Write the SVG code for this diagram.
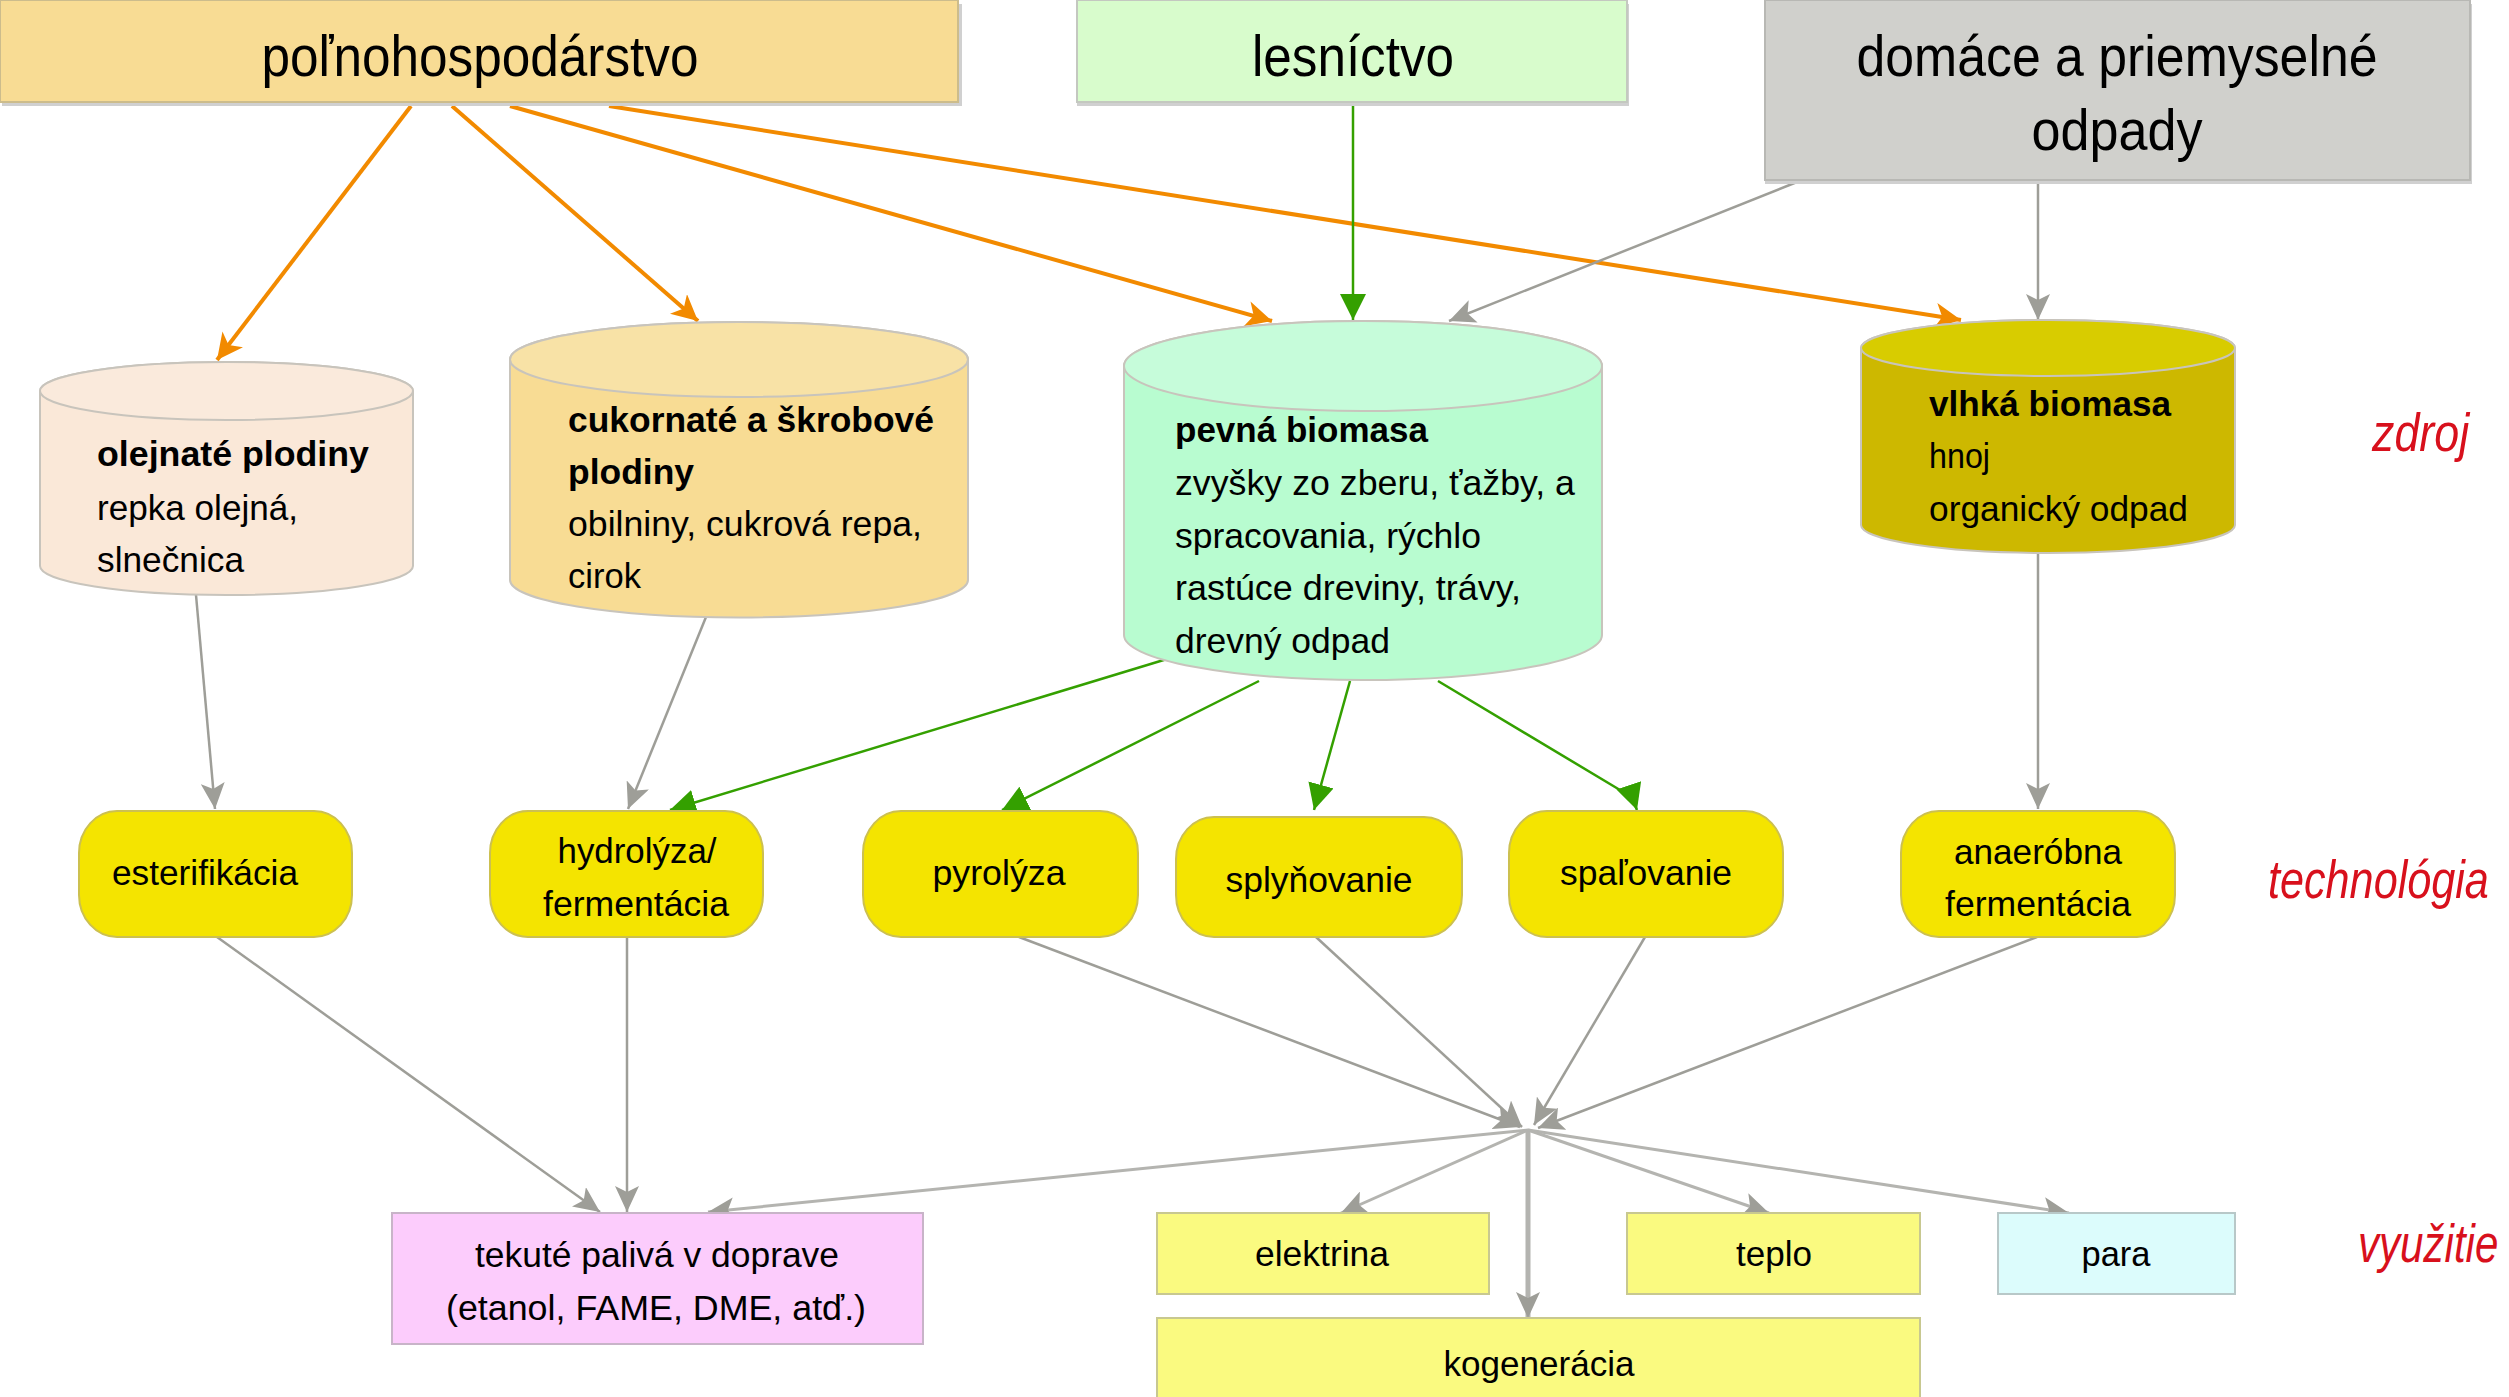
<svg xmlns="http://www.w3.org/2000/svg" width="2509" height="1397" viewBox="0 0 2509 1397">
<style>
text{font-family:"Liberation Sans",Arial,sans-serif;fill:#000}
.t{font-size:58px;text-anchor:middle}
.n{font-size:35px}
.b{font-weight:bold}
.c{font-size:35px;text-anchor:middle}
.r{font-size:54px;font-style:italic;fill:#D8101C}
.sh{fill:#D0D0D0}
.cyl{stroke:#C8C4BC;stroke-width:2}
.tech{fill:#F4E400;stroke:#CCC050;stroke-width:2}
.or{stroke:#F28A00;stroke-width:4;fill:none;marker-end:url(#ao)}
.gr{stroke:#34A000;stroke-width:2.5;fill:none;marker-end:url(#ag)}
.gy{stroke:#9E9E98;stroke-width:2.5;fill:none;marker-end:url(#ay)}
.gl{stroke:#B4B4B0;stroke-width:3;fill:none;marker-end:url(#ay)}
</style>
<defs>
<marker id="ao" markerUnits="userSpaceOnUse" markerWidth="28" markerHeight="26" refX="26" refY="13" orient="auto"><path d="M0,0 L26,13 L0,26 L7,13 Z" fill="#F28A00"/></marker>
<marker id="ag" markerUnits="userSpaceOnUse" markerWidth="28" markerHeight="26" refX="26" refY="13" orient="auto"><path d="M0,0 L26,13 L0,26 Z" fill="#34A000"/></marker>
<marker id="ay" markerUnits="userSpaceOnUse" markerWidth="28" markerHeight="24" refX="26" refY="12" orient="auto"><path d="M0,0 L26,12 L0,24 L6,12 Z" fill="#9E9E98"/></marker>
</defs>
<rect width="2509" height="1397" fill="#fff"/>

<g id="connectors">
<line class="or" x1="411" y1="106" x2="217" y2="360"/>
<line class="or" x1="452" y1="106" x2="698" y2="321"/>
<line class="or" x1="510" y1="106" x2="1272" y2="321"/>
<line class="or" x1="609" y1="106" x2="1961" y2="320"/>
<line class="gr" x1="1353" y1="104" x2="1353" y2="320"/>
<line class="gy" x1="1797" y1="182" x2="1449" y2="321"/>
<line class="gy" x1="2038" y1="182" x2="2038" y2="320"/>
<line class="gy" x1="196" y1="595" x2="215" y2="809"/>
<line class="gy" x1="706" y1="617" x2="628" y2="809"/>
<line class="gr" x1="1167" y1="659" x2="670" y2="810"/>
<line class="gr" x1="1259" y1="681" x2="1002" y2="810"/>
<line class="gr" x1="1350" y1="681" x2="1314" y2="810"/>
<path class="gr" d="M1438,681 L1620,790 Q1633,798 1637,810"/>
<line class="gy" x1="2038" y1="553" x2="2038" y2="809"/>
<line class="gy" x1="217" y1="937" x2="600" y2="1212"/>
<line class="gy" x1="627" y1="937" x2="627" y2="1212"/>
<line class="gy" x1="1019" y1="937" x2="1520" y2="1127"/>
<line class="gy" x1="1316" y1="937" x2="1522" y2="1127"/>
<line class="gy" x1="1645" y1="937" x2="1534" y2="1125"/>
<line class="gy" x1="2037" y1="937" x2="1538" y2="1128"/>
<line class="gl" x1="1528" y1="1130" x2="708" y2="1212"/>
<line class="gl" x1="1528" y1="1130" x2="1341" y2="1213"/>
<line class="gl" x1="1528" y1="1130" x2="1528" y2="1318" style="stroke-width:5"/>
<line class="gl" x1="1528" y1="1130" x2="1769" y2="1213"/>
<line class="gl" x1="1528" y1="1130" x2="2069" y2="1213"/>
</g>

<g id="polnohospodarstvo">
<rect class="sh" x="2" y="4" width="960" height="102"/>
<rect x="0" y="0" width="958" height="102" fill="#F8DC94" stroke="#CCBC8C" stroke-width="2"/>
<text class="t" x="480" y="76" textLength="437" lengthAdjust="spacingAndGlyphs">poľnohospodárstvo</text>
</g>
<g id="lesnictvo">
<rect class="sh" x="1077" y="4" width="552" height="102"/>
<rect x="1077" y="0" width="550" height="102" fill="#D8FCCC" stroke="#C4C8C0" stroke-width="2"/>
<text class="t" x="1353" y="76" textLength="202" lengthAdjust="spacingAndGlyphs">lesníctvo</text>
</g>
<g id="domace">
<rect class="sh" x="1765" y="4" width="707" height="180"/>
<rect x="1765" y="0" width="705" height="180" fill="#D0D0CC" stroke="#B8B8B4" stroke-width="2"/>
<text class="t" x="2117" y="76" textLength="521" lengthAdjust="spacingAndGlyphs">domáce a priemyselné</text>
<text class="t" x="2117" y="150" textLength="171" lengthAdjust="spacingAndGlyphs">odpady</text>
</g>

<g id="olejnate">
<path class="cyl" d="M40,391 V566 A186.5,29 0 0 0 413,566 V391 A186.5,29 0 0 0 40,391 Z" fill="#FAE8D8"/>
<ellipse class="cyl" cx="226.5" cy="391" rx="186.5" ry="29" fill="#FAEADC"/>
<text class="n b" x="97" y="466" textLength="272" lengthAdjust="spacingAndGlyphs">olejnaté plodiny</text>
<text class="n" x="97" y="520" textLength="201" lengthAdjust="spacingAndGlyphs">repka olejná,</text>
<text class="n" x="97" y="572" textLength="147" lengthAdjust="spacingAndGlyphs">slnečnica</text>
</g>
<g id="cukornate">
<path class="cyl" d="M510,359.5 V580 A229,37.5 0 0 0 968,580 V359.5 A229,37.5 0 0 0 510,359.5 Z" fill="#F8DC94"/>
<ellipse class="cyl" cx="739" cy="359.5" rx="229" ry="37.5" fill="#F8E2A6"/>
<text class="n b" x="568" y="432" textLength="366" lengthAdjust="spacingAndGlyphs">cukornaté a škrobové</text>
<text class="n b" x="568" y="484" textLength="126" lengthAdjust="spacingAndGlyphs">plodiny</text>
<text class="n" x="568" y="536" textLength="354" lengthAdjust="spacingAndGlyphs">obilniny, cukrová repa,</text>
<text class="n" x="568" y="588" textLength="73" lengthAdjust="spacingAndGlyphs">cirok</text>
</g>
<g id="pevna">
<path class="cyl" d="M1124,366 V635 A239,45 0 0 0 1602,635 V366 A239,45 0 0 0 1124,366 Z" fill="#B8FCD0"/>
<ellipse class="cyl" cx="1363" cy="366" rx="239" ry="45" fill="#C6FCDA"/>
<text class="n b" x="1175" y="442" textLength="253" lengthAdjust="spacingAndGlyphs">pevná biomasa</text>
<text class="n" x="1175" y="495" textLength="400" lengthAdjust="spacingAndGlyphs">zvyšky zo zberu, ťažby, a</text>
<text class="n" x="1175" y="548" textLength="306" lengthAdjust="spacingAndGlyphs">spracovania, rýchlo</text>
<text class="n" x="1175" y="600" textLength="346" lengthAdjust="spacingAndGlyphs">rastúce dreviny, trávy,</text>
<text class="n" x="1175" y="653" textLength="215" lengthAdjust="spacingAndGlyphs">drevný odpad</text>
</g>
<g id="vlhka">
<path class="cyl" d="M1861,348 V525 A187,28 0 0 0 2235,525 V348 A187,28 0 0 0 1861,348 Z" fill="#CDB800"/>
<ellipse class="cyl" cx="2048" cy="348" rx="187" ry="28" fill="#D8CC00"/>
<text class="n b" x="1929" y="416" textLength="242" lengthAdjust="spacingAndGlyphs">vlhká biomasa</text>
<text class="n" x="1929" y="468" textLength="61" lengthAdjust="spacingAndGlyphs">hnoj</text>
<text class="n" x="1929" y="521" textLength="259" lengthAdjust="spacingAndGlyphs">organický odpad</text>
</g>

<g id="esterifikacia">
<rect class="tech" x="79" y="811" width="273" height="126" rx="38" ry="42"/>
<text class="c" x="205" y="885" textLength="186" lengthAdjust="spacingAndGlyphs">esterifikácia</text>
</g>
<g id="hydrolyza">
<rect class="tech" x="490" y="811" width="273" height="126" rx="38" ry="42"/>
<text class="c" x="637" y="863" textLength="159" lengthAdjust="spacingAndGlyphs">hydrolýza/</text>
<text class="c" x="636" y="916" textLength="186" lengthAdjust="spacingAndGlyphs">fermentácia</text>
</g>
<g id="pyrolyza">
<rect class="tech" x="863" y="811" width="275" height="126" rx="38" ry="42"/>
<text class="c" x="999" y="885" textLength="133" lengthAdjust="spacingAndGlyphs">pyrolýza</text>
</g>
<g id="splynovanie">
<rect class="tech" x="1176" y="817" width="286" height="120" rx="38" ry="42"/>
<text class="c" x="1319" y="892" textLength="187" lengthAdjust="spacingAndGlyphs">splyňovanie</text>
</g>
<g id="spalovanie">
<rect class="tech" x="1509" y="811" width="274" height="126" rx="38" ry="42"/>
<text class="c" x="1646" y="885" textLength="172" lengthAdjust="spacingAndGlyphs">spaľovanie</text>
</g>
<g id="anaerobna">
<rect class="tech" x="1901" y="811" width="274" height="126" rx="38" ry="42"/>
<text class="c" x="2038" y="864" textLength="168" lengthAdjust="spacingAndGlyphs">anaeróbna</text>
<text class="c" x="2038" y="916" textLength="186" lengthAdjust="spacingAndGlyphs">fermentácia</text>
</g>

<g id="tekute">
<rect x="392" y="1213" width="531" height="131" fill="#FCCCFC" stroke="#C8B4C8" stroke-width="2"/>
<text class="c" x="657" y="1267" textLength="364" lengthAdjust="spacingAndGlyphs">tekuté palivá v doprave</text>
<text class="c" x="656" y="1320" textLength="420" lengthAdjust="spacingAndGlyphs">(etanol, FAME, DME, atď.)</text>
</g>
<g id="elektrina">
<rect x="1157" y="1213" width="332" height="81" fill="#FAFA80" stroke="#C8C890" stroke-width="2"/>
<text class="c" x="1322" y="1266" textLength="134" lengthAdjust="spacingAndGlyphs">elektrina</text>
</g>
<g id="teplo">
<rect x="1627" y="1213" width="293" height="81" fill="#FAFA80" stroke="#C8C890" stroke-width="2"/>
<text class="c" x="1774" y="1266" textLength="76" lengthAdjust="spacingAndGlyphs">teplo</text>
</g>
<g id="para">
<rect x="1998" y="1213" width="237" height="81" fill="#DCFCFC" stroke="#B8C8C8" stroke-width="2"/>
<text class="c" x="2116" y="1266" textLength="69" lengthAdjust="spacingAndGlyphs">para</text>
</g>
<g id="kogeneracia">
<rect x="1157" y="1318" width="763" height="90" fill="#FAFA80" stroke="#C8C890" stroke-width="2"/>
<text class="c" x="1539" y="1376" textLength="191" lengthAdjust="spacingAndGlyphs">kogenerácia</text>
</g>

<g id="labels">
<text class="r" transform="translate(2372,451) scale(0.83,1)">zdroj</text>
<text class="r" transform="translate(2268,898) scale(0.8,1)">technológia</text>
<text class="r" transform="translate(2358,1262) scale(0.78,1)">využitie</text>
</g>
</svg>
